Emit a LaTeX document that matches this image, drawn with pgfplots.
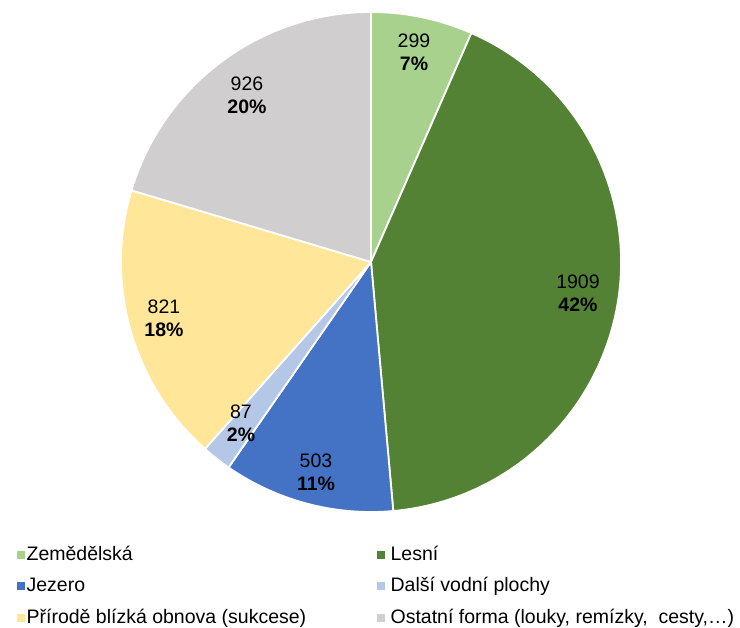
\documentclass[border=0pt]{standalone}
\usepackage{pgfplots}
\usepackage{pgfplotstable}
\usepackage{fontspec}
\setmainfont{Liberation Sans}
\pgfplotsset{compat=1.18}

\definecolor{czem}{HTML}{A9D18E}
\definecolor{cles}{HTML}{548235}
\definecolor{cjez}{HTML}{4472C4}
\definecolor{cvod}{HTML}{B4C7E7}
\definecolor{cobn}{HTML}{FFE699}
\definecolor{cost}{HTML}{D0CECE}

% plochy v ha, poradi po smeru hodin od 12 h
\pgfplotstableread{
value col
299 czem
1909 cles
503 cjez
87 cvod
821 cobn
926 cost
}\piedata

\begin{document}
\begin{tikzpicture}[font=\fontsize{19.5}{23}\selectfont]
\begin{axis}[
    scale only axis,
    width=740pt, height=627pt,
    xmin=0, xmax=740, ymin=0, ymax=627,
    hide axis, clip=false,
    legend columns=2,
    legend style={at={(axis cs:17,81)}, anchor=north west, draw=none, fill=none,
        row sep=13.5pt, inner sep=0pt,
        font=\fontsize{19.5}{23}\selectfont,
        nodes={inner xsep=2pt, inner ysep=0pt, text height=14pt, text depth=4pt},
        /tikz/column 1/.style={column sep=0pt},
        /tikz/column 2/.style={column sep=69pt},
        /tikz/column 3/.style={column sep=4pt}},
    legend cell align=left,
]
% rozmer obrazku
\path (axis cs:0,0) rectangle (axis cs:740,627);

\def\total{4545}
\def\cum{0}
\pgfplotsforeachungrouped \i in {0,...,5}{%
  \pgfplotstablegetelem{\i}{value}\of\piedata \let\v\pgfplotsretval
  \pgfplotstablegetelem{\i}{col}\of\piedata \let\c\pgfplotsretval
  \pgfmathsetmacro{\a}{90-360*(\cum/\total)}%
  \pgfmathsetmacro{\b}{90-360*((\cum+\v)/\total)}%
  \edef\temp{\noexpand\fill[\c, draw=white, line width=1.8pt, line join=round]
    (axis cs:371,365) -- ++(\a:250pt) arc[start angle=\a, end angle=\b, radius=250pt] -- cycle;}%
  \temp
  \pgfmathsetmacro{\cum}{\cum+\v}%
  \xdef\cum{\cum}%
}

\node[align=center] at (axis cs:414,575) {299\\\textbf{7\%}};
\node[align=center] at (axis cs:578,334) {1909\\\textbf{42\%}};
\node[align=center] at (axis cs:316,155) {503\\\textbf{11\%}};
\node[align=center] at (axis cs:241,204) {87\\\textbf{2\%}};
\node[align=center] at (axis cs:164,309) {821\\\textbf{18\%}};
\node[align=center] at (axis cs:247,532) {926\\\textbf{20\%}};

\addlegendimage{legend image code/.code={\fill[czem] (0pt,-3pt) rectangle (7pt,4pt);}}
\addlegendentry{Zemědělská}
\addlegendimage{legend image code/.code={\fill[cles] (0pt,-3pt) rectangle (7pt,4pt);}}
\addlegendentry{Lesní}
\addlegendimage{legend image code/.code={\fill[cjez] (0pt,-3pt) rectangle (7pt,4pt);}}
\addlegendentry{Jezero}
\addlegendimage{legend image code/.code={\fill[cvod] (0pt,-3pt) rectangle (7pt,4pt);}}
\addlegendentry{Další vodní plochy}
\addlegendimage{legend image code/.code={\fill[cobn] (0pt,-3pt) rectangle (7pt,4pt);}}
\addlegendentry{Přírodě blízká obnova (sukcese)}
\addlegendimage{legend image code/.code={\fill[cost] (0pt,-3pt) rectangle (7pt,4pt);}}
\addlegendentry{Ostatní forma (louky, remízky,\ \ cesty,\dots)}
\end{axis}
\end{tikzpicture}
\end{document}
